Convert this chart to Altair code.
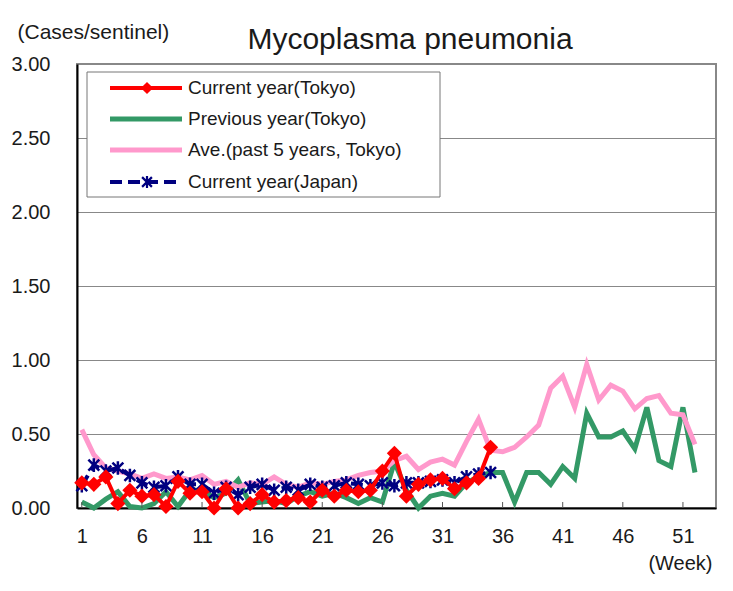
import altair as alt
import pandas as pd

# ---------------- data ----------------
weeks_current = list(range(1, 36))
current_tokyo = [0.17, 0.16, 0.21, 0.03, 0.12, 0.08, 0.09, 0.01, 0.18, 0.10,
                 0.11, 0.00, 0.13, 0.00, 0.03, 0.09, 0.04, 0.05, 0.07, 0.04,
                 0.12, 0.08, 0.12, 0.11, 0.12, 0.25, 0.37, 0.08, 0.16, 0.19,
                 0.20, 0.13, 0.17, 0.20, 0.41]
current_japan = [0.15, 0.29, 0.25, 0.27, 0.22, 0.17, 0.14, 0.15, 0.21, 0.16,
                 0.16, 0.10, 0.14, 0.09, 0.14, 0.16, 0.12, 0.14, 0.12, 0.16,
                 0.14, 0.15, 0.17, 0.16, 0.15, 0.17, 0.15, 0.17, 0.17, 0.18,
                 0.19, 0.17, 0.21, 0.23, 0.24]
weeks_full = list(range(1, 53))
previous_tokyo = [0.04, 0.00, 0.06, 0.11, 0.01, 0.00, 0.03, 0.11, 0.01, 0.12,
                  0.12, 0.07, 0.10, 0.19, 0.03, 0.04, 0.05, 0.03, 0.08, 0.11,
                  0.08, 0.10, 0.07, 0.03, 0.07, 0.04, 0.31, 0.12, 0.00, 0.08,
                  0.10, 0.08, 0.17, 0.21, 0.24, 0.24, 0.04, 0.24, 0.24, 0.16,
                  0.28, 0.20, 0.64, 0.48, 0.48, 0.52, 0.40, 0.68, 0.32, 0.28,
                  0.68, 0.24]
average_5y = [0.53, 0.36, 0.27, 0.25, 0.23, 0.20, 0.23, 0.20, 0.21, 0.19,
              0.22, 0.16, 0.18, 0.14, 0.17, 0.16, 0.21, 0.16, 0.14, 0.17,
              0.16, 0.18, 0.19, 0.22, 0.24, 0.25, 0.32, 0.35, 0.26, 0.31,
              0.33, 0.29, 0.45, 0.60, 0.39, 0.38, 0.41, 0.48, 0.56, 0.81,
              0.89, 0.68, 0.97, 0.73, 0.83, 0.79, 0.67, 0.74, 0.76, 0.64,
              0.63, 0.43]
x_tick_weeks = [1, 6, 11, 16, 21, 26, 31, 36, 41, 46, 51]
y_ticks = [0.0, 0.5, 1.0, 1.5, 2.0, 2.5, 3.0]

legend_labels = ["Current year(Tokyo)", "Previous year(Tokyo)",
                 "Ave.(past 5 years, Tokyo)", "Current year(Japan)"]
title_text = "Mycoplasma pneumonia"

# ---------------- styles ----------------
FONT = "Liberation Sans"
TXT = "#1a1a1a"
RED = "#ff0000"
GREEN = "#339966"
PINK = "#ff99cc"
NAVY = "#000080"
ASTERISK = "M0,-1L0,1M-0.8,-0.8L0.8,0.8M-0.8,0.8L0.8,-0.8"

df_red = pd.DataFrame({"week": weeks_current, "value": current_tokyo})
df_blue = pd.DataFrame({"week": weeks_current, "value": current_japan})
df_green = pd.DataFrame({"week": weeks_full, "value": previous_tokyo})
df_pink = pd.DataFrame({"week": weeks_full, "value": average_5y})
df_ticks = pd.DataFrame({"week": x_tick_weeks})
one = pd.DataFrame({"k": [0]})

xscale = alt.Scale(domain=[0.6, 53.75], nice=False, zero=False)
yscale = alt.Scale(domain=[0, 3], nice=False)

xaxis = alt.Axis(values=x_tick_weeks, ticks=False, grid=False,
                 labelFontSize=20, labelFont=FONT, labelColor=TXT,
                 labelPadding=18, domainColor="#000000", domainWidth=2,
                 title="(Week)", titleFont=FONT, titleFontSize=20,
                 titleFontWeight="normal", titleColor=TXT,
                 titleAlign="right", titleBaseline="middle",
                 titleX=635, titleY=55)
yaxis = alt.Axis(values=y_ticks, format=".2f", ticks=False, grid=True,
                 gridColor="#888888", gridWidth=1,
                 labelFontSize=20, labelFont=FONT, labelColor=TXT,
                 labelPadding=27, domainColor="#000000", domainWidth=2,
                 title="(Cases/sentinel)", titleFont=FONT, titleFontSize=21,
                 titleFontWeight="normal", titleColor=TXT, titleAngle=0,
                 titleAlign="left", titleBaseline="middle",
                 titleX=-60, titleY=-32)

X = alt.X("week:Q", scale=xscale, axis=xaxis)
Y = alt.Y("value:Q", scale=yscale, axis=yaxis)

green = alt.Chart(df_green).mark_line(color=GREEN, strokeWidth=5).encode(x=X, y=Y)
pink = alt.Chart(df_pink).mark_line(color=PINK, strokeWidth=5).encode(x=X, y=Y)
blue_line = alt.Chart(df_blue).mark_line(color=NAVY, strokeWidth=4,
                                         strokeDash=[12, 6]).encode(x=X, y=Y)
blue_pts = alt.Chart(df_blue).mark_point(shape=ASTERISK, filled=False,
                                         color=NAVY, strokeWidth=2.5,
                                         size=185, opacity=1).encode(x=X, y=Y)
red_line = alt.Chart(df_red).mark_line(color=RED, strokeWidth=4).encode(x=X, y=Y)
red_pts = alt.Chart(df_red).mark_point(shape="diamond", filled=True,
                                       color=RED, size=230,
                                       opacity=1).encode(x=X, y=Y)

ticks = alt.Chart(df_ticks).mark_rule(color="#555555", strokeWidth=1).encode(
    x=alt.X("week:Q", scale=xscale, axis=xaxis),
    y=alt.value(444), y2=alt.value(438))

title = alt.Chart(one).mark_text(text=title_text, font=FONT, fontSize=30,
                                 color=TXT, align="center",
                                 baseline="middle").encode(
    x=alt.value(333), y=alt.value(-24))

# legend (drawn by hand)
box = alt.Chart(one).mark_rect(fill="white", stroke="#777777",
                               strokeWidth=1).encode(
    x=alt.value(10), x2=alt.value(363), y=alt.value(8), y2=alt.value(133))

rows_y = [24, 55, 86, 118]
leg = [box]
styles = [
    dict(color=RED, strokeWidth=4),
    dict(color=GREEN, strokeWidth=5),
    dict(color=PINK, strokeWidth=5),
    dict(color=NAVY, strokeWidth=4, strokeDash=[12, 6]),
]
for i, (lab, st) in enumerate(zip(legend_labels, styles)):
    yy = rows_y[i]
    leg.append(alt.Chart(one).mark_rule(**st).encode(
        x=alt.value(33), x2=alt.value(105), y=alt.value(yy)))
    leg.append(alt.Chart(one).mark_text(text=lab, font=FONT, fontSize=19,
                                        color=TXT, align="left",
                                        baseline="middle").encode(
        x=alt.value(111), y=alt.value(yy)))
leg.append(alt.Chart(one).mark_point(shape="diamond", filled=True, color=RED,
                                     size=150, opacity=1).encode(
    x=alt.value(70), y=alt.value(rows_y[0])))
leg.append(alt.Chart(one).mark_point(shape=ASTERISK, filled=False, color=NAVY,
                                     strokeWidth=2.2, size=150,
                                     opacity=1).encode(
    x=alt.value(70), y=alt.value(rows_y[3])))

chart = alt.layer(green, pink, blue_line, blue_pts, red_line, red_pts, ticks,
                  title, *leg).properties(
    width=639, height=444,
    autosize=alt.AutoSizeParams(type="none"),
    padding={"left": 69, "top": 56, "right": 9, "bottom": 75},
    background="white",
).configure_view(stroke="#888888", strokeWidth=2)

chart.save("out.html", embed_options={"renderer": "svg", "actions": False})
